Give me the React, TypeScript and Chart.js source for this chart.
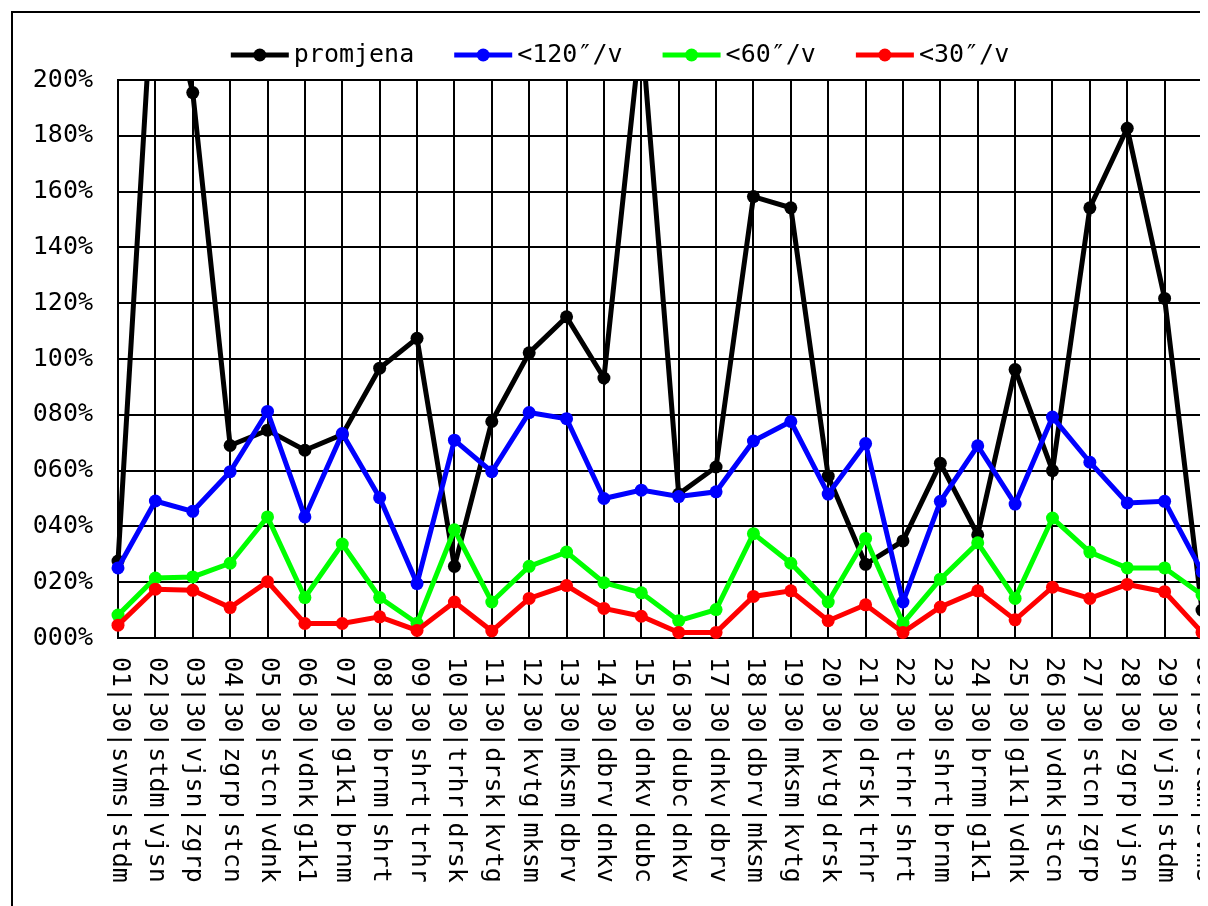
import React, { useEffect, useRef } from "react";
import { Chart, registerables } from "chart.js";

Chart.register(...registerables);

const categories = [
  "01|30|svms|stdm", "02|30|stdm|vjsn", "03|30|vjsn|zgrp", "04|30|zgrp|stcn",
  "05|30|stcn|vdnk", "06|30|vdnk|g1k1", "07|30|g1k1|brnm", "08|30|brnm|shrt",
  "09|30|shrt|trhr", "10|30|trhr|drsk", "11|30|drsk|kvtg", "12|30|kvtg|mksm",
  "13|30|mksm|dbrv", "14|30|dbrv|dnkv", "15|30|dnkv|dubc", "16|30|dubc|dnkv",
  "17|30|dnkv|dbrv", "18|30|dbrv|mksm", "19|30|mksm|kvtg", "20|30|kvtg|drsk",
  "21|30|drsk|trhr", "22|30|trhr|shrt", "23|30|shrt|brnm", "24|30|brnm|g1k1",
  "25|30|g1k1|vdnk", "26|30|vdnk|stcn", "27|30|stcn|zgrp", "28|30|zgrp|vjsn",
  "29|30|vjsn|stdm", "30|30|stdm|svms",
];

const promjena = [
  27.6, 250, 195.5, 69.0, 74.5, 67.3, 72.9, 96.7, 107.4, 25.7,
  77.6, 102.2, 115.1, 93.2, 219, 51.6, 61.3, 158.2, 154.2, 58.0,
  26.4, 34.8, 62.6, 37, 96.2, 60.0, 154.2, 182.7, 121.7, 10,
];

const below120 = [
  25.1, 49.1, 45.4, 59.6, 81.2, 43.4, 73.3, 50.3, 19.5, 70.9,
  59.6, 80.8, 78.6, 50.0, 53.0, 50.7, 52.4, 70.6, 77.6, 51.6,
  69.7, 12.9, 49.0, 68.9, 48.0, 79.2, 63.0, 48.4, 49.0, 23.8,
];

const below60 = [
  8.2, 21.5, 21.9, 26.8, 43.4, 14.5, 33.7, 14.5, 5.3, 38.8,
  12.9, 25.7, 30.8, 19.8, 16.2, 6.2, 10.2, 37.4, 26.8, 12.9,
  35.7, 5.3, 21.1, 34.1, 14.2, 43.0, 30.8, 25.1, 25.1, 15.5,
];

const below30 = [
  4.6, 17.5, 17.1, 10.9, 20.2, 5.2, 5.2, 7.6, 2.7, 12.9,
  2.5, 14.2, 18.8, 10.6, 7.8, 2.0, 2.0, 14.9, 16.9, 6.2,
  11.9, 2.0, 11.1, 16.9, 6.5, 18.2, 14.2, 19.2, 16.6, 2.0,
];

const seriesNames = ["promjena", "<120″/v", "<60″/v", "<30″/v"];
const seriesColors = ["#000000", "#0000ff", "#00ff00", "#ff0000"];

const yTickValues = [0, 20, 40, 60, 80, 100, 120, 140, 160, 180, 200];
const yTickLabels = ["000%", "020%", "040%", "060%", "080%", "100%", "120%", "140%", "160%", "180%", "200%"];

const FONT = "'DejaVu Sans Mono', monospace";
const FONT_SIZE = 25;
const CANVAS_W = 1214;
const CANVAS_H = 920;
const PLOT_BOTTOM = 625;

const legendPlugin = {
  id: "lineLegend",
  afterDraw(chart: any) {
    const ctx = chart.ctx;
    ctx.save();
    ctx.font = `${FONT_SIZE}px ${FONT}`;
    const lineLen = 58;
    const gapText = 5;
    const gapItem = 40;
    const ds = chart.data.datasets;
    const widths = ds.map((d: any) => lineLen + gapText + ctx.measureText(d.label).width);
    const total = widths.reduce((a: number, b: number) => a + b, 0) + gapItem * (widths.length - 1);
    let x = chart.width / 2 - total / 2;
    const y = 42;
    ds.forEach((d: any, i: number) => {
      ctx.strokeStyle = d.borderColor;
      ctx.lineWidth = 5;
      ctx.beginPath();
      ctx.moveTo(x, y);
      ctx.lineTo(x + lineLen, y);
      ctx.stroke();
      ctx.fillStyle = d.borderColor;
      ctx.beginPath();
      ctx.arc(x + lineLen / 2, y, 6.5, 0, Math.PI * 2);
      ctx.fill();
      ctx.fillStyle = "#000";
      ctx.textAlign = "left";
      ctx.textBaseline = "middle";
      ctx.fillText(d.label, x + lineLen + gapText, y);
      x += widths[i] + gapItem;
    });
    ctx.restore();
  },
};

const xLabelPlugin = {
  id: "xLabels",
  afterDraw(chart: any) {
    const ctx = chart.ctx;
    const xs = chart.scales.x;
    ctx.save();
    ctx.font = `${FONT_SIZE}px ${FONT}`;
    ctx.fillStyle = "#000";
    ctx.textAlign = "left";
    ctx.textBaseline = "middle";
    (chart.data.labels as string[]).forEach((lab, i) => {
      const px = xs.getPixelForTick(i);
      ctx.save();
      ctx.translate(px + 1, chart.chartArea.bottom + 19);
      ctx.rotate(Math.PI / 2);
      ctx.fillText(lab, 0, 0);
      ctx.restore();
    });
    ctx.restore();
  },
};

export default function App() {
  const ref = useRef<HTMLCanvasElement>(null);

  useEffect(() => {
    const prevOverflow = document.body.style.overflow;
    document.body.style.overflow = "hidden";
    if (!ref.current) return;
    const seriesData = [promjena, below120, below60, below30];
    const chart = new Chart(ref.current, {
      type: "line",
      data: {
        labels: categories,
        datasets: seriesNames.map((name, i) => ({
          label: name,
          data: seriesData[i],
          borderColor: seriesColors[i],
          backgroundColor: seriesColors[i],
          pointBackgroundColor: seriesColors[i],
          pointBorderColor: seriesColors[i],
          pointBorderWidth: 0,
          pointRadius: 6.5,
          borderWidth: 5,
          tension: 0,
          fill: false,
          order: seriesNames.length - i,
          clip: { left: 12, top: 0, right: 12, bottom: 12 },
        })),
      },
      options: {
        responsive: false,
        animation: false,
        devicePixelRatio: 1,
        layout: { padding: { top: 67, right: 25, left: 0, bottom: 0 } },
        plugins: {
          legend: { display: false },
          tooltip: { enabled: false },
        },
        scales: {
          x: {
            grid: { color: "#000", lineWidth: 2, drawTicks: false },
            border: { color: "#000", width: 2 },
            ticks: { display: false },
            afterFit(scale: any) {
              scale.height = CANVAS_H - PLOT_BOTTOM;
            },
          },
          y: {
            min: 0,
            max: 200,
            grid: { color: "#000", lineWidth: 2, drawTicks: false },
            border: { color: "#000", width: 2 },
            ticks: {
              stepSize: 20,
              padding: 25,
              color: "#000",
              font: { family: FONT, size: FONT_SIZE },
              callback: (v: any) => {
                const idx = yTickValues.indexOf(Number(v));
                return idx >= 0 ? yTickLabels[idx] : "";
              },
            },
            afterFit(scale: any) {
              scale.width = 105;
            },
          },
        },
      },
      plugins: [legendPlugin, xLabelPlugin],
    } as any);
    return () => {
      chart.destroy();
      document.body.style.overflow = prevOverflow;
    };
  }, []);

  return (
    <div style={{ position: "relative", width: 1200, height: 898, overflow: "hidden", background: "#fff" }}>
      <div
        style={{
          position: "absolute",
          left: 3,
          top: 3,
          border: "2px solid #000",
          width: CANVAS_W,
          height: CANVAS_H,
          background: "#fff",
        }}
      >
        <canvas ref={ref} width={CANVAS_W} height={CANVAS_H} style={{ display: "block" }} />
      </div>
    </div>
  );
}
